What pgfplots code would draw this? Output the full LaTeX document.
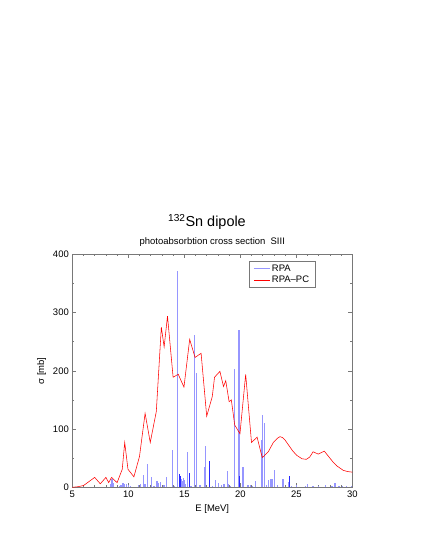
\documentclass[border=0pt]{standalone}
\usepackage{pgfplots}
\pgfplotsset{compat=1.18}
\usepackage{pgfplotstable}
\usepackage{fontspec}
\setmainfont{Liberation Sans}
\definecolor{rpalight}{RGB}{150,150,255}
\definecolor{rpadeep}{RGB}{40,40,255}
\definecolor{framegray}{RGB}{120,120,120}

\pgfplotstableread{
E s
8.45 6
8.54 14
8.65 8
9.20 3
9.35 4
9.53 7
9.65 5
9.82 5
10.00 4
10.20 2
10.90 4
11.07 5
11.37 21
11.50 6
11.73 40
12.05 18
12.30 3
12.56 10
12.70 8
12.85 9
13.20 4
13.43 18
13.96 64
14.10 3
14.38 372
14.55 23
14.65 18
14.72 14
14.80 10
14.91 16
15.00 12
15.10 5
15.27 61
15.45 25
15.60 3
15.93 261
16.10 196
16.40 4
16.82 35
16.90 71
17.23 46
17.50 3
17.77 12
18.07 8
18.30 4
18.55 6
18.84 28
18.95 5
19.10 3
19.50 203
19.88 270
20.24 34
20.70 4
20.90 4
21.10 3
21.37 11
21.88 81
22.00 124
22.14 110
22.35 4
22.50 12
22.70 14
22.83 14
23.04 30
23.30 4
23.80 14
24.30 9
24.40 20
24.60 3
25.00 4
25.80 3
26.00 5
26.50 3
27.00 2
27.60 4
28.20 3
28.46 8
28.80 2
29.10 3
29.50 3
29.90 3
}\rpa

\pgfplotstableread{
E s
14.58 22
14.68 20
15.45 25
17.23 46
19.90 20
24.40 20
}\rpadark

\pgfplotstableread{
E s
5.00 0
5.50 1
6.00 3
6.50 10
7.00 17
7.50 6
8.00 17
8.25 8
8.50 17
9.00 8
9.46 31
9.68 77
9.97 31
10.50 18
11.00 53
11.50 127
11.96 77
12.50 130
12.95 275
13.20 241
13.50 294
14.00 189
14.46 194
14.97 172
15.48 254
15.96 223
16.50 230
17.00 122
17.50 156
17.70 189
18.18 199
18.50 173
18.70 183
19.00 147
19.20 150
19.50 107
19.97 92
20.48 194
21.00 77
21.50 86
21.96 51
22.50 61
22.95 77
23.30 84
23.55 87
23.80 85
24.00 81
24.40 70
24.70 62
25.03 55
25.50 49
25.90 48
26.20 52
26.50 61
26.96 57
27.50 62
28.00 50
28.30 43
28.60 37
29.20 29
29.60 27
30.00 26
}\rpapc

\begin{document}
\begin{tikzpicture}
\path[use as bounding box] (-72.3bp,-62.7bp) rectangle (352.7bp,487.3bp);
\begin{axis}[
  at={(0,0)}, anchor=south west,
  scale only axis, width=280bp, height=233bp,
  xmin=5, xmax=30, ymin=0, ymax=400,
  xtick={5,10,...,30}, ytick={0,100,...,400},
  minor x tick num=4, minor y tick num=1,
  tick align=inside,
  major tick length=4bp, minor tick length=2bp,
  axis line style={draw=framegray, line width=0.5bp},
  every tick/.style={draw=framegray, line width=0.5bp},
  tick label style={font=\fontsize{9.5}{11}\selectfont},
  /pgf/number format/assume math mode=true,
  xlabel={E [MeV]}, ylabel={σ [mb]},
  label style={font=\fontsize{9.5}{11}\selectfont},
  legend style={at={(0.868,0.971)}, anchor=north east, draw=framegray,
    font=\fontsize{9.5}{11}\selectfont, cells={anchor=west},
    inner xsep=4bp, inner ysep=1.5bp, row sep=-1bp},
  legend image code/.code={\draw[#1] (0cm,0cm) -- (0.55cm,0cm);},
  clip=true,
]
\addplot[ycomb, draw=rpalight, line width=1.3bp, forget plot] table[x=E,y=s] {\rpa};
\addplot[ycomb, draw=rpadeep, line width=0.9bp, forget plot] table[x=E,y=s] {\rpadark};
\addlegendimage{draw=rpalight, line width=0.8bp}
\addlegendentry{RPA}
\addplot[draw=red, line width=0.55bp] table[x=E,y=s] {\rpapc};
\addlegendentry{RPA{\textendash}PC}
\end{axis}
\node[anchor=base] at (134.7bp,260.6bp) {\fontsize{14.5}{17}\selectfont\textsuperscript{132}Sn dipole};
\node[anchor=base] at (140bp,242.3bp) {\fontsize{9.5}{11}\selectfont photoabsorbtion cross section\ \ SIII};
\end{tikzpicture}
\end{document}
